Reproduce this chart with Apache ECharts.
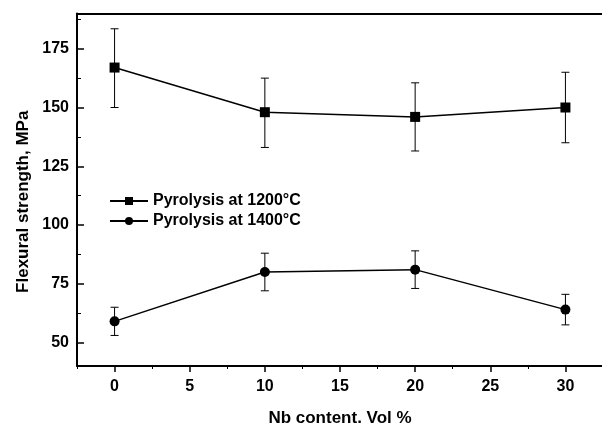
<!DOCTYPE html>
<html>
<head>
	<meta charset="utf-8"/>
	<title>Flexural strength</title>
	<style>
		* { margin: 0; padding: 0; }
		body { background: #fff; }
	</style>
</head>
<body>
	<div style="width: 602px;height: 426px;" id="myChart"></div>

	<script src="https://cdn.jsdelivr.net/npm/echarts@6/dist/echarts.min.js"></script>
	<script>
		// Nb content, Vol %
		var nbContent = [0, 10, 20, 30];

		// pyrolysis at 1200°C
		var strength1200 = [167, 148, 146, 150];
		var low1200 = [150, 133, 131.5, 135];
		var high1200 = [183.5, 162.5, 160.5, 165];

		// pyrolysis at 1400°C
		var strength1400 = [59, 80, 81, 64];
		var low1400 = [53, 72, 73, 57.5];
		var high1400 = [65, 88, 89, 70.5];

		var xLabels = [0, 5, 10, 15, 20, 25, 30];
		var xMinor = [-2.5, 2.5, 7.5, 12.5, 17.5, 22.5, 27.5, 32.5];
		var yLabels = [50, 75, 100, 125, 150, 175];
		var yMinor = [62.5, 87.5, 112.5, 137.5, 162.5, 187.5];

		var font = 'Liberation Sans, Arial, sans-serif';

		function pairs(xs, ys) {
			return xs.map(function (x, i) { return [x, ys[i]]; });
		}
		function bars(xs, lo, hi) {
			return xs.map(function (x, i) { return [x, lo[i], hi[i]]; });
		}

		function renderErrorBar(params, api) {
			var top = api.coord([api.value(0), api.value(2)]);
			var bot = api.coord([api.value(0), api.value(1)]);
			var w = 4;
			var style = { stroke: '#000', lineWidth: 1 };
			return {
				type: 'group',
				children: [
					{ type: 'line', shape: { x1: top[0], y1: top[1], x2: bot[0], y2: bot[1] }, style: style },
					{ type: 'line', shape: { x1: top[0] - w, y1: top[1], x2: top[0] + w, y2: top[1] }, style: style },
					{ type: 'line', shape: { x1: bot[0] - w, y1: bot[1], x2: bot[0] + w, y2: bot[1] }, style: style }
				]
			};
		}

		var myChart = echarts.init(document.getElementById('myChart'));

		var option = {
			animation: false,
			textStyle: { fontFamily: font },
			grid: {
				left: 77,
				top: 13.5,
				width: 526,
				height: 352.5,
				outerBoundsMode: 'none'
			},
			legend: {
				left: 104,
				top: 188,
				orient: 'vertical',
				itemWidth: 38,
				itemHeight: 10,
				itemGap: 4,
				lineStyle: { width: 2 },
				textStyle: { fontSize: 16, fontWeight: 'bold', color: '#000', fontFamily: font },
				data: ['Pyrolysis at 1200°C', 'Pyrolysis at 1400°C']
			},
			xAxis: [
				{
					type: 'value',
					position: 'bottom',
					min: -2.5,
					max: 32.5,
					name: 'Nb content. Vol %',
					nameLocation: 'middle',
					nameGap: 44,
					nameTextStyle: { fontSize: 17, fontWeight: 'bold', color: '#000' },
					axisLine: { onZero: false, lineStyle: { color: '#000', width: 2 } },
					axisTick: { customValues: xLabels, length: 6, lineStyle: { color: '#000', width: 1.5 } },
					axisLabel: { customValues: xLabels, fontSize: 16, fontWeight: 'bold', color: '#000', margin: 13 },
					splitLine: { show: false }
				},
				{
					type: 'value',
					position: 'bottom',
					min: -2.5,
					max: 32.5,
					axisLine: { show: false, onZero: false },
					axisTick: { customValues: xMinor, length: 3, lineStyle: { color: '#000', width: 1 } },
					axisLabel: { show: false },
					splitLine: { show: false }
				},
				{
					type: 'value',
					position: 'top',
					min: -2.5,
					max: 32.5,
					axisLine: { onZero: false, lineStyle: { color: '#000', width: 2 } },
					axisTick: { show: false },
					axisLabel: { show: false },
					splitLine: { show: false }
				}
			],
			yAxis: [
				{
					type: 'value',
					position: 'left',
					min: 40,
					max: 190,
					name: 'Flexural strength, MPa',
					nameLocation: 'middle',
					nameGap: 42,
					nameTextStyle: { fontSize: 17, fontWeight: 'bold', color: '#000', padding: [0, 24, 0, 0] },
					axisLine: { show: true, onZero: false, lineStyle: { color: '#000', width: 2 } },
					axisTick: { customValues: yLabels, inside: true, length: 7, lineStyle: { color: '#000', width: 1.5 } },
					axisLabel: { customValues: yLabels, fontSize: 16, fontWeight: 'bold', color: '#000', margin: 8 },
					splitLine: { show: false }
				},
				{
					type: 'value',
					position: 'left',
					min: 40,
					max: 190,
					axisLine: { show: false, onZero: false },
					axisTick: { customValues: yMinor, inside: true, length: 4, lineStyle: { color: '#000', width: 1 } },
					axisLabel: { show: false },
					splitLine: { show: false }
				}
			],
			series: [
				{
					name: 'Pyrolysis at 1200°C',
					type: 'line',
					data: pairs(nbContent, strength1200),
					symbol: 'rect',
					symbolSize: 10,
					itemStyle: { color: '#000' },
					lineStyle: { color: '#000', width: 1.5 },
					z: 3
				},
				{
					name: 'Pyrolysis at 1400°C',
					type: 'line',
					data: pairs(nbContent, strength1400),
					symbol: 'circle',
					symbolSize: 10,
					itemStyle: { color: '#000' },
					lineStyle: { color: '#000', width: 1.5 },
					z: 3
				},
				{
					type: 'custom',
					renderItem: renderErrorBar,
					data: bars(nbContent, low1200, high1200),
					encode: { x: 0, y: [1, 2] },
					z: 2
				},
				{
					type: 'custom',
					renderItem: renderErrorBar,
					data: bars(nbContent, low1400, high1400),
					encode: { x: 0, y: [1, 2] },
					z: 2
				}
			]
		};

		myChart.setOption(option);
	</script>
</body>
</html>
